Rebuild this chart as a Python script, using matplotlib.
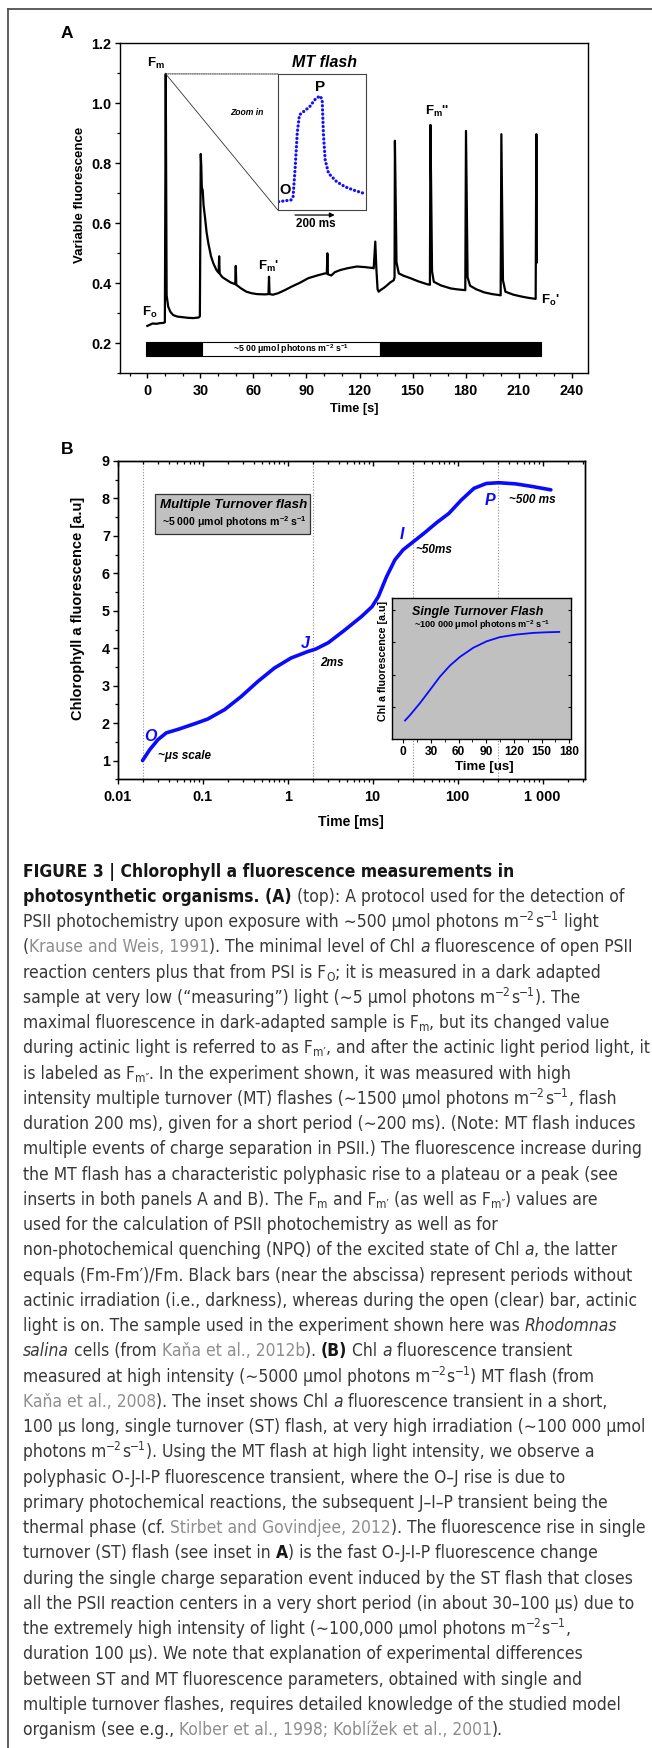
import matplotlib
matplotlib.use('Agg')
import matplotlib.pyplot as plt
from matplotlib.patches import Rectangle, ConnectionPatch
from matplotlib.lines import Line2D
from matplotlib.ticker import MultipleLocator, LogLocator, NullFormatter
from matplotlib import font_manager as fm
from matplotlib.font_manager import FontProperties

W, H, DPI = 652, 1748, 100

_names = {f.name for f in fm.fontManager.ttflist}
AX_FAM = 'Liberation Sans' if 'Liberation Sans' in _names else 'DejaVu Sans'

plt.rcParams['font.family'] = [AX_FAM, 'DejaVu Sans']
plt.rcParams['font.weight'] = 'bold'
plt.rcParams['axes.labelweight'] = 'bold'
plt.rcParams['mathtext.fontset'] = 'custom'
plt.rcParams['mathtext.rm'] = AX_FAM + ':bold'
plt.rcParams['mathtext.it'] = AX_FAM + ':bold:italic'
plt.rcParams['mathtext.bf'] = AX_FAM + ':bold'
plt.rcParams['mathtext.default'] = 'regular'
plt.rcParams['axes.linewidth'] = 1.0

# ---------------- data: panel A (slow kinetics) ----------------
a_time = [0, 1.5, 3, 5, 7, 9, 9.9, 10.4, 10.9, 11.8, 13, 14.6, 17, 20, 23, 26, 29, 29.7,
          30.2, 30.5, 30.8, 31.3, 31.8, 32.6, 33.5, 34.5, 36, 37.3, 39, 40.3, 40.6, 40.9,
          42.5, 44.9, 47, 49.7, 50.0, 50.3, 53, 56, 58.9, 62, 66.5, 68.5, 68.8, 69.1, 71,
          74, 78, 81.6, 86, 91, 96, 100.5, 101.5, 101.8, 102.1, 104, 106, 109, 113, 118.5,
          123, 127.6, 128.0, 128.9, 129.5, 130.2, 130.8, 132, 133.6, 135.5, 137.4, 139.3,
          139.8, 140.0, 140.9, 142.2, 145, 148.8, 153, 158.2, 159.8, 160.1, 161, 162, 166,
          171.5, 175, 179.8, 180.2, 181.1, 182.5, 186, 190.4, 195, 199.8, 200.2, 201.1,
          202.5, 207, 211.5, 215, 219.6, 220.0, 220.3]
a_fluor = [0.258, 0.262, 0.266, 0.265, 0.267, 0.268, 0.27, 1.098, 0.36, 0.322, 0.305, 0.294,
           0.289, 0.287, 0.285, 0.284, 0.286, 0.29,
           0.831, 0.79, 0.72, 0.71, 0.66, 0.62, 0.57, 0.533, 0.49, 0.467, 0.445, 0.435, 0.49, 0.432,
           0.42, 0.411, 0.403, 0.397, 0.458, 0.395, 0.383, 0.372, 0.367, 0.364, 0.363, 0.364, 0.422,
           0.364, 0.362,
           0.367, 0.378, 0.389, 0.401, 0.417, 0.426, 0.433, 0.433, 0.5, 0.43, 0.426, 0.437, 0.444,
           0.45, 0.456,
           0.454, 0.451, 0.45, 0.539, 0.45, 0.38, 0.372, 0.378, 0.384, 0.393, 0.403, 0.41,
           0.42, 0.875, 0.47, 0.433, 0.425, 0.417, 0.407, 0.397, 0.395, 0.928, 0.44, 0.405, 0.393,
           0.383, 0.38, 0.377, 0.908, 0.42, 0.392, 0.38, 0.37, 0.364, 0.36, 0.897, 0.41,
           0.372, 0.362, 0.356, 0.352, 0.348, 0.897, 0.47]
a_fm = (10.4, 1.098)
a_bar_edges = [-1, 31, 131.3, 222.8]
a_bar_colors = ['black', 'white', 'black']
a_bar_low, a_bar_high = 0.157, 0.203
a_bar_text = '~5 00 μmol photons m$^{-2}$ s$^{-1}$'
a_xticks = [0, 30, 60, 90, 120, 150, 180, 210, 240]
a_yticks = [0.2, 0.4, 0.6, 0.8, 1.0, 1.2]

# MT flash zoom-in (time in ms, relative units)
mt_time = [4, 67, 77, 88, 98, 109, 130, 161, 193, 214, 224, 230, 239, 256, 297, 339, 381, 433]
mt_fluor = [0.061, 0.074, 0.098, 0.318, 0.564, 0.699, 0.723, 0.76, 0.822, 0.838, 0.809,
            0.564, 0.368, 0.27, 0.208, 0.171, 0.147, 0.123]

# ---------------- data: panel B (OJIP) ----------------
b_time = [0.0196, 0.0238, 0.0298, 0.0373, 0.0524, 0.082, 0.115, 0.181, 0.284, 0.445, 0.698,
          1.10, 1.72, 2.15, 3.02, 4.73, 7.43, 9.85, 11.7, 14.6, 18.3, 22.9, 30.4, 40.3, 56.5,
          79, 111, 156, 218, 306, 480, 753, 1253]
b_fluor = [1.0, 1.29, 1.56, 1.74, 1.84, 1.99, 2.11, 2.36, 2.71, 3.11, 3.47, 3.74, 3.91, 3.98,
           4.15, 4.49, 4.85, 5.11, 5.38, 5.91, 6.36, 6.63, 6.85, 7.07, 7.35, 7.6, 7.96, 8.27,
           8.40, 8.42, 8.39, 8.32, 8.23]
b_vlines = [0.02, 2, 30, 300]
b_xticks = [0.01, 0.1, 1, 10, 100, 1000]
b_xticklabels = ['0.01', '0.1', '1', '10', '100', '1 000']
b_yticks = [1, 2, 3, 4, 5, 6, 7, 8, 9]

# Single turnover inset (time in us)
st_time = [1.8, 7.3, 18.1, 29.0, 39.8, 50.6, 61.5, 75.9, 90.4, 104.9, 122.9, 141, 155.5, 169.2]
st_fluor = [0.58, 0.75, 1.12, 1.53, 1.94, 2.28, 2.55, 2.83, 3.03, 3.16, 3.24, 3.29, 3.31, 3.32]
st_xticks = [0, 30, 60, 90, 120, 150, 180]

# ---------------- caption ----------------
M2 = [('^', '−2'), ('n', 's'), ('^', '−1')]
caption = [
    [('B', 'FIGURE 3 | Chlorophyll a fluorescence measurements in')],
    [('B', 'photosynthetic organisms. (A)'), ('n', ' (top): A protocol used for the detection of')],
    [('n', 'PSII photochemistry upon exposure with ∼500 μmol photons m')] + M2 + [('n', ' light')],
    [('n', '('), ('g', 'Krause and Weis, 1991'), ('n', '). The minimal level of Chl '), ('i', 'a'),
     ('n', ' fluorescence of open PSII')],
    [('n', 'reaction centers plus that from PSI is F'), ('_', 'O'), ('n', '; it is measured in a dark adapted')],
    [('n', 'sample at very low (“measuring”) light (∼5 μmol photons m')] + M2 + [('n', '). The')],
    [('n', 'maximal fluorescence in dark-adapted sample is F'), ('_', 'm'), ('n', ', but its changed value')],
    [('n', 'during actinic light is referred to as F'), ('_', 'm′'),
     ('n', ', and after the actinic light period light, it')],
    [('n', 'is labeled as F'), ('_', 'm″'), ('n', '. In the experiment shown, it was measured with high')],
    [('n', 'intensity multiple turnover (MT) flashes (∼1500 μmol photons m')] + M2 + [('n', ', flash')],
    [('n', 'duration 200 ms), given for a short period (∼200 ms). (Note: MT flash induces')],
    [('n', 'multiple events of charge separation in PSII.) The fluorescence increase during')],
    [('n', 'the MT flash has a characteristic polyphasic rise to a plateau or a peak (see')],
    [('n', 'inserts in both panels A and B). The F'), ('_', 'm'), ('n', ' and F'), ('_', 'm′'),
     ('n', ' (as well as F'), ('_', 'm″'), ('n', ') values are')],
    [('n', 'used for the calculation of PSII photochemistry as well as for')],
    [('n', 'non-photochemical quenching (NPQ) of the excited state of Chl '), ('i', 'a'), ('n', ', the latter')],
    [('n', 'equals (Fm-Fm′)/Fm. Black bars (near the abscissa) represent periods without')],
    [('n', 'actinic irradiation (i.e., darkness), whereas during the open (clear) bar, actinic')],
    [('n', 'light is on. The sample used in the experiment shown here was '), ('i', 'Rhodomnas')],
    [('i', 'salina'), ('n', ' cells (from '), ('g', 'Kaňa et al., 2012b'), ('n', '). '), ('b', '(B)'),
     ('n', ' Chl '), ('i', 'a'), ('n', ' fluorescence transient')],
    [('n', 'measured at high intensity (∼5000 μmol photons m')] + M2 + [('n', ') MT flash (from')],
    [('g', 'Kaňa et al., 2008'), ('n', '). The inset shows Chl '), ('i', 'a'),
     ('n', ' fluorescence transient in a short,')],
    [('n', '100 μs long, single turnover (ST) flash, at very high irradiation (∼100 000 μmol')],
    [('n', 'photons m')] + M2 + [('n', '). Using the MT flash at high light intensity, we observe a')],
    [('n', 'polyphasic O-J-I-P fluorescence transient, where the O–J rise is due to')],
    [('n', 'primary photochemical reactions, the subsequent J–I–P transient being the')],
    [('n', 'thermal phase (cf. '), ('g', 'Stirbet and Govindjee, 2012'), ('n', '). The fluorescence rise in single')],
    [('n', 'turnover (ST) flash (see inset in '), ('b', 'A'), ('n', ') is the fast O-J-I-P fluorescence change')],
    [('n', 'during the single charge separation event induced by the ST flash that closes')],
    [('n', 'all the PSII reaction centers in a very short period (in about 30–100 μs) due to')],
    [('n', 'the extremely high intensity of light (∼100,000 μmol photons m')] + M2 + [('n', ',')],
    [('n', 'duration 100 μs). We note that explanation of experimental differences')],
    [('n', 'between ST and MT fluorescence parameters, obtained with single and')],
    [('n', 'multiple turnover flashes, requires detailed knowledge of the studied model')],
    [('n', 'organism (see e.g., '), ('g', 'Kolber et al., 1998; Koblížek et al., 2001'), ('n', ').')],
]


def rect(l, t, r, b):
    return [l / W, 1 - b / H, (r - l) / W, (b - t) / H]


def bold_ticklabels(ax):
    for lbl in ax.get_xticklabels() + ax.get_yticklabels():
        lbl.set_fontweight('bold')


fig = plt.figure(figsize=(W / DPI, H / DPI), dpi=DPI)
fig.patch.set_facecolor('white')

# page frame
fig.add_artist(Line2D([7.5 / W, 1.0], [1 - 8.5 / H] * 2, transform=fig.transFigure,
                      color='#505050', lw=1.3))
fig.add_artist(Line2D([7.5 / W] * 2, [1 - 8.5 / H, 0.0], transform=fig.transFigure,
                      color='#505050', lw=1.3))

TB = dict(fontweight='bold')

# ======================= Panel A =======================
axA = fig.add_axes(rect(120.3, 43.3, 588, 373.3))
axA.plot(a_time, a_fluor, color='black', lw=1.6, zorder=3)
axA.set_xlim(-15.3, 249.2)
axA.set_ylim(0.1, 1.2)
axA.set_xticks(a_xticks)
axA.set_yticks(a_yticks)
axA.set_yticklabels(['%.1f' % v for v in a_yticks])
axA.xaxis.set_minor_locator(MultipleLocator(10))
axA.yaxis.set_minor_locator(MultipleLocator(0.1))
axA.tick_params(which='major', direction='out', length=3.6, width=1.0, labelsize=10.4)
axA.tick_params(axis='x', which='major', pad=4.3)
axA.tick_params(axis='y', which='major', pad=3.0)
axA.tick_params(which='minor', direction='out', length=2.2, width=0.9)
bold_ticklabels(axA)
axA.set_xlabel('Time [s]', fontsize=9.2, **TB)
axA.xaxis.set_label_coords(0.5, -0.0905)
axA.set_ylabel('Variable fluorescence', fontsize=9.5, **TB)
axA.yaxis.set_label_coords(-0.074, 0.54)

for l, r, c in zip(a_bar_edges[:-1], a_bar_edges[1:], a_bar_colors):
    axA.add_patch(Rectangle((l, a_bar_low), r - l, a_bar_high - a_bar_low, facecolor=c,
                            edgecolor='black', lw=0.8, zorder=2))
axA.text(81, (a_bar_low + a_bar_high) / 2, a_bar_text, fontsize=6.3, ha='center',
         va='center', zorder=4, **TB)

axA.text(4.8, 1.132, 'F$_m$', fontsize=9.5, ha='center', va='center', **TB)
axA.text(164, 0.973, "F$_m$''", fontsize=9.5, ha='center', va='center', **TB)
axA.text(68.3, 0.455, "F$_m$'", fontsize=9.5, ha='center', va='center', **TB)
axA.text(1.4, 0.303, 'F$_o$', fontsize=9.5, ha='center', va='center', **TB)
axA.text(228, 0.342, "F$_o$'", fontsize=9.5, ha='center', va='center', **TB)
axA.text(99.9, 1.135, 'MT flash', fontsize=11.5, fontstyle='italic', ha='center', va='center', **TB)
axA.text(56.5, 0.97, 'Zoom in', fontsize=6.2, fontstyle='italic', ha='center', va='center', **TB)

# MT flash zoom-in box
axMT = fig.add_axes(rect(277.8, 74, 366, 210))
axMT.set_facecolor('none')
for sp in axMT.spines.values():
    sp.set_linestyle((0, (1, 1)))
    sp.set_linewidth(0.8)
    sp.set_color('#444444')
axMT.set_xticks([])
axMT.set_yticks([])
axMT.set_xlim(0, 445)
axMT.set_ylim(0, 1)
axMT.plot(mt_time, mt_fluor, color='#1010ff', lw=2.3, linestyle=(0, (0.05, 1.25)),
          dash_capstyle='round')
axMT.text(212.7, 0.905, 'P', fontsize=11, ha='center', va='center', **TB)
axMT.text(36, 0.15, 'O', fontsize=10.5, ha='center', va='center', **TB)
axMT.annotate('', xy=(287, -0.037), xytext=(87, -0.037), xycoords='data',
              annotation_clip=False,
              arrowprops=dict(arrowstyle='-|>', color='black', lw=0.9, mutation_scale=7,
                              shrinkA=0, shrinkB=0))
axMT.text(192, -0.105, '200 ms', fontsize=8.4, ha='center', va='center', clip_on=False, **TB)

fig.add_artist(ConnectionPatch(xyA=(0, 1), coordsA=axMT.transAxes, xyB=a_fm,
                               coordsB=axA.transData, linestyle=(0, (1, 1)), lw=0.8,
                               color='#444444'))
fig.add_artist(ConnectionPatch(xyA=(0, 0), coordsA=axMT.transAxes, xyB=a_fm,
                               coordsB=axA.transData, lw=0.6, color='#333333'))

fig.text(66.5 / W, 1 - 34 / H, 'A', fontsize=12.5, ha='center', va='center', **TB)

# ======================= Panel B =======================
axB = fig.add_axes(rect(117.7, 461, 585, 779.3))
axB.set_xscale('log')
axB.set_xlim(0.01, 3162)
axB.set_ylim(0.5, 9)
for v in b_vlines:
    axB.axvline(v, color='#8a8a8a', lw=0.8, linestyle=(0, (1, 1.6)), zorder=1)
axB.plot(b_time, b_fluor, color='#0a0aff', lw=2.6, solid_capstyle='round', zorder=3)
axB.set_xticks(b_xticks)
axB.set_xticklabels(b_xticklabels)
axB.xaxis.set_minor_locator(LogLocator(base=10, subs=range(2, 10), numticks=20))
axB.xaxis.set_minor_formatter(NullFormatter())
axB.set_yticks(b_yticks)
axB.yaxis.set_minor_locator(MultipleLocator(0.5))
axB.tick_params(which='major', direction='out', length=3.6, width=1.0, labelsize=10.4)
axB.tick_params(axis='x', which='major', pad=4.3)
axB.tick_params(axis='y', which='major', pad=2.0)
axB.tick_params(which='minor', direction='out', length=2.2, width=0.9)
bold_ticklabels(axB)
axB.set_xlabel('Time [ms]', fontsize=10.1, **TB)
axB.xaxis.set_label_coords(0.499, -0.1106)
axB.set_ylabel('Chlorophyll a fluorescence [a.u]', fontsize=10.5, **TB)
axB.yaxis.set_label_coords(-0.069, 0.538)

axT = axB.twiny()
axT.set_xscale('log')
axT.set_xlim(0.01, 3162)
axT.set_xticks(b_xticks)
axT.xaxis.set_minor_locator(LogLocator(base=10, subs=range(2, 10), numticks=20))
axT.xaxis.set_major_formatter(NullFormatter())
axT.xaxis.set_minor_formatter(NullFormatter())
axT.tick_params(which='major', direction='in', length=3.6, width=1.0)
axT.tick_params(which='minor', direction='in', length=2.2, width=0.9)

blue_kw = dict(color='#0a0aff', fontsize=11.5, fontstyle='italic', ha='center', va='center',
               fontweight='bold')
axB.text(0.0243, 1.65, 'O', **blue_kw)
axB.text(1.62, 4.12, 'J', **blue_kw)
axB.text(22.4, 7.03, 'I', **blue_kw)
axB.text(243.8, 7.94, 'P', **blue_kw)
ann_kw = dict(fontsize=8.5, fontstyle='italic', ha='left', va='center', fontweight='bold')
axB.text(0.0298, 1.13, '~μs scale', **ann_kw)
axB.text(2.4, 3.6, '2ms', **ann_kw)
axB.text(32.1, 6.61, '~50ms', **ann_kw)
axB.text(401.5, 7.96, '~500 ms', **ann_kw)

axB.add_patch(Rectangle((0.079, 0.771), 0.332, 0.125, transform=axB.transAxes,
                        facecolor='#c0c0c0', edgecolor='#333333', lw=0.9, zorder=4))
axB.text(0.249, 0.862, 'Multiple Turnover flash', transform=axB.transAxes, fontsize=9.6,
         fontstyle='italic', ha='center', va='center', zorder=5, **TB)
axB.text(0.249, 0.809, '~5 000 μmol photons m$^{-2}$ s$^{-1}$', transform=axB.transAxes,
         fontsize=7.6, ha='center', va='center', zorder=5, **TB)

fig.text(67 / W, 1 - 449 / H, 'B', fontsize=12.5, ha='center', va='center', **TB)

# Single turnover inset
axST = fig.add_axes(rect(392.3, 598.3, 571, 739.3))
axST.set_zorder(10)
axST.set_facecolor('#c0c0c0')
axST.plot(st_time, st_fluor, color='#0a0aff', lw=1.3)
axST.set_xlim(-12, 182)
axST.set_ylim(0, 4.36)
axST.set_xticks(st_xticks)
axST.xaxis.set_minor_locator(MultipleLocator(15))
axST.set_yticks([1, 2, 3, 4])
axST.set_yticklabels([])
axST.tick_params(axis='y', which='both', direction='in', length=2.5, right=True)
axST.tick_params(axis='x', which='major', direction='out', length=3, labelsize=8.6, pad=1.6)
axST.tick_params(axis='x', which='minor', direction='out', length=1.8)
bold_ticklabels(axST)
axST.set_xlabel('Time [us]', fontsize=9.5, **TB)
axST.xaxis.set_label_coords(0.517, -0.152)
axST.set_ylabel('Chl a fluorescence [a.u]', fontsize=7.7, **TB)
axST.yaxis.set_label_coords(-0.025, 0.555)
axST.text(0.477, 0.90, 'Single Turnover Flash', transform=axST.transAxes, fontsize=9,
          fontstyle='italic', ha='center', va='center', **TB)
axST.text(0.505, 0.81, '~100 000 μmol photons m$^{-2}$ s$^{-1}$', transform=axST.transAxes,
          fontsize=6.6, ha='center', va='center', **TB)

# ======================= Caption =======================
if 'Liberation Sans Narrow' in _names:
    CAP_FAM, CAP_STRETCH = ['Liberation Sans Narrow', 'DejaVu Sans'], 'normal'
else:
    CAP_FAM, CAP_STRETCH = ['DejaVu Sans'], 'condensed'

KIND = {
    'B': ('bold', 'normal', '#161616'),
    'b': ('bold', 'normal', '#161616'),
    'n': ('normal', 'normal', '#383838'),
    'i': ('normal', 'italic', '#383838'),
    'g': ('normal', 'normal', '#8e8e8e'),
    '^': ('normal', 'normal', '#383838'),
    '_': ('normal', 'normal', '#383838'),
}
renderer = fig.canvas.get_renderer()


def make_prop(kind, size):
    w, st, c = KIND[kind]
    sz = size * 0.68 if kind in '^_' else size
    return FontProperties(family=CAP_FAM, weight=w, style=st, size=sz, stretch=CAP_STRETCH), c


def seg_w(s, prop):
    w1 = renderer.get_text_width_height_descent('|' + s + '|', prop, ismath=False)[0]
    w0 = renderer.get_text_width_height_descent('||', prop, ismath=False)[0]
    return w1 - w0


def line_width(segs, size):
    return sum(seg_w(s, make_prop(k, size)[0]) for k, s in segs)


def draw_line(segs, x0, base_y, size):
    x = x0
    for k, s in segs:
        prop, c = make_prop(k, size)
        dy = 0.0
        if k == '^':
            dy = -0.40 * size * DPI / 72
        elif k == '_':
            dy = 0.17 * size * DPI / 72
        fig.text(x / W, 1 - (base_y + dy) / H, s, fontproperties=prop, color=c,
                 ha='left', va='baseline')
        x += seg_w(s, prop)


CAP_X0 = 23.0
ref = [(7, 623.6), (11, 620.7)]
ratios = [tw / line_width(caption[i], 12.0) for i, tw in ref]
cap_size = 12.0 * sum(ratios) / len(ratios)
cap_size = max(8.0, min(cap_size, 13.5))
for i, segs in enumerate(caption):
    draw_line(segs, CAP_X0, 876.7 + 25.25 * i, cap_size)

fig.savefig('out.png', dpi=DPI, facecolor='white')
